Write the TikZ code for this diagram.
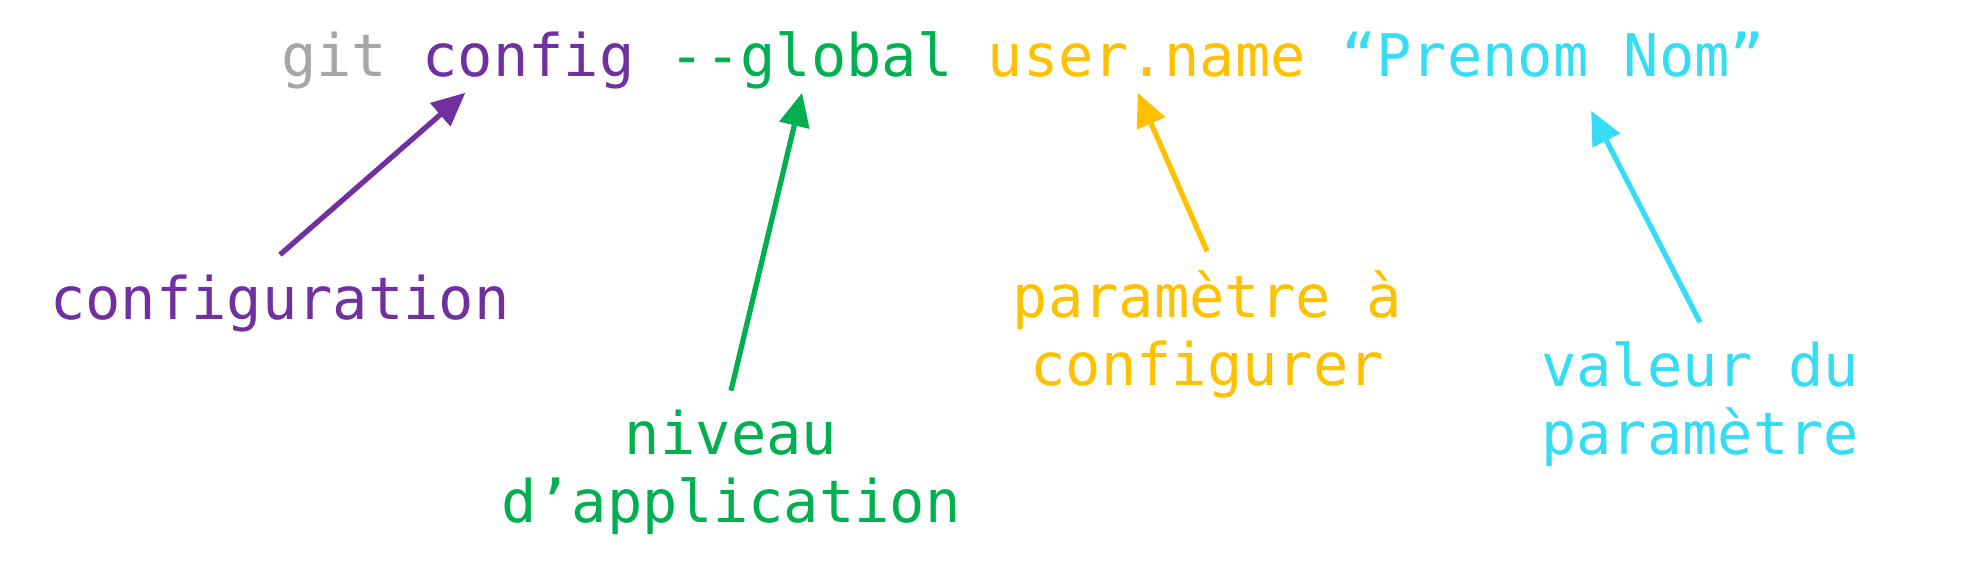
\documentclass[tikz,border=0pt]{standalone}
\usepackage{fontspec}
\setmonofont{DejaVu Sans Mono}
\usetikzlibrary{positioning,arrows.meta}
\definecolor{gitgray}{HTML}{A6A6A6}
\definecolor{cfgpurple}{HTML}{7030A0}
\definecolor{lvlgreen}{HTML}{00B050}
\definecolor{pargold}{HTML}{FFC000}
\definecolor{valcyan}{HTML}{35DCF5}
\newlength\charw

\begin{document}
\settowidth{\charw}{\ttfamily\fontsize{16.7}{19.1}\selectfont x}
\begin{tikzpicture}[
  word/.style={font=\ttfamily\fontsize{16.7}{19.1}\selectfont, inner sep=0pt, outer sep=0pt, text height=0.76em, text depth=0.25em},
  lbl/.style={font=\ttfamily\fontsize{16.7}{19.1}\selectfont, align=center, inner sep=5.4pt},
  arr/.style={-{Triangle[length=9.5pt,width=8.5pt]}, line width=1.5pt},
  node distance=\charw]
  \useasboundingbox (0,0) rectangle (19.87,-5.74);

  % la commande
  \node[word, gitgray, anchor=base west] (git) at (2.81,-0.76) {git};
  \node[word, cfgpurple, base right=of git] (config) {config};
  \node[word, lvlgreen, base right=of config] (global) {--global};
  \node[word, pargold, base right=of global] (param) {user.name};
  \node[word, valcyan, base right=of param] (value) {“Prenom Nom”};

  % les explications (base = derniere ligne)
  \node[lbl, cfgpurple, anchor=base] (cfg) at (2.80,-3.19) {configuration};
  \node[lbl, lvlgreen, anchor=base] (niv) at (7.31,-5.22) {niveau\\d’application};
  \node[lbl, pargold, anchor=base] (par) at (12.07,-3.85) {paramètre à\\configurer};
  \node[lbl, valcyan, anchor=base] (val) at (17.00,-4.54) {valeur du\\paramètre};

  \draw[arr, cfgpurple] (cfg.north) -- ([xshift=-6.3mm,yshift=-0.8mm]config.south);
  \draw[arr, lvlgreen] (niv.north) -- ([xshift=-0.9mm,yshift=-0.8mm]global.south);
  \draw[arr, pargold] (par.north) -- ([xshift=-0.9mm,yshift=-0.8mm]param.south);
  \draw[arr, valcyan] (val.north) -- ([xshift=3.8mm,yshift=-2.6mm]value.south);
\end{tikzpicture}
\end{document}
